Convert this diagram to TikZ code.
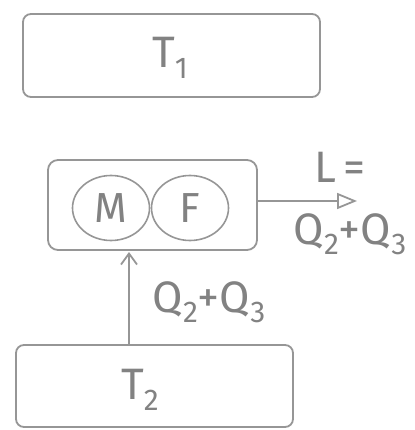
\documentclass[tikz,border=0pt]{standalone}
\usepackage{fontspec}
\setmainfont{Fira Sans}
\usetikzlibrary{arrows.meta,shapes.geometric}
\definecolor{ink}{RGB}{130,130,130}
\definecolor{pen}{RGB}{150,150,150}
\newcommand{\lowsub}[1]{\raisebox{-0.45ex}{\fontsize{30}{30}\selectfont #1}}
\tikzset{
  tank/.style={draw=pen, line width=1.8pt, rounded corners=8pt},
  engine/.style={draw=pen, line width=1.8pt, rounded corners=10pt},
  part/.style={draw=pen, line width=1.6pt, ellipse, minimum width=77pt, minimum height=65pt, inner sep=0pt, text=ink, font=\fontsize{42}{42}\selectfont},
  lbl/.style={text=ink, font=\fontsize{44}{44}\selectfont, inner sep=0pt},
  flow/.style={draw=pen, line width=1.8pt}
}
\begin{document}
\begin{tikzpicture}[x=1pt,y=-1pt]
\useasboundingbox (0,0) rectangle (414,430);
\draw[tank] (23,14) rectangle (320,97);
\node[lbl] (t1) at (170,58) {T\lowsub{1}};
\node[engine, minimum width=209pt, minimum height=90pt] (box) at (152.5,205) {};
\node[part] (m) at (111,208) {M};
\node[part] (f) at (190,208) {F};
\draw[tank] (16,345) rectangle (293,427);
\node[lbl] (t2) at (140,390) {T\lowsub{2}};
\coordinate (out) at (357,201);
\draw[flow, -{Triangle[open, length=20pt, width=16pt]}] (box.east |- out) -- (out);
\coordinate (up) at (129,345);
\coordinate (upend) at (129,252);
\draw[flow, -{Straight Barb[length=11pt, width=16pt]}] (up) -- (upend);
\node[lbl] (L) at (340,167) {L\,=};
\node[lbl] (q1) at (350,234) {Q\lowsub{2}+Q\lowsub{3}};
\node[lbl] (q2) at (209,302) {Q\lowsub{2}+Q\lowsub{3}};
\end{tikzpicture}
\end{document}
